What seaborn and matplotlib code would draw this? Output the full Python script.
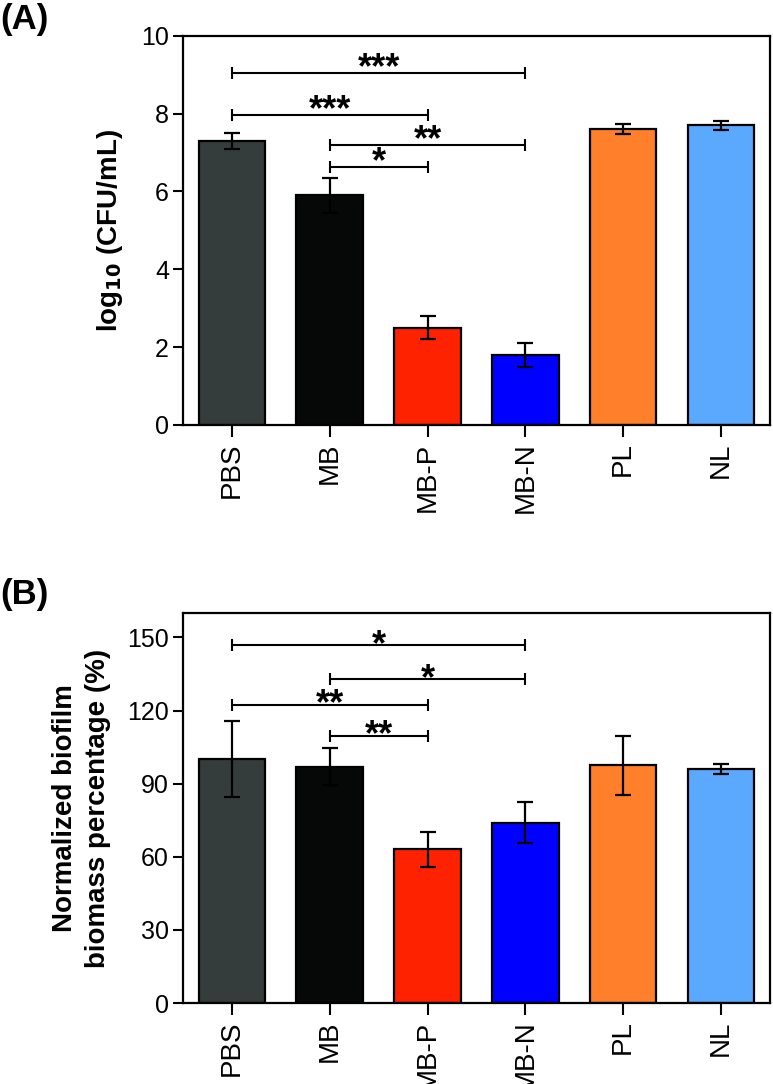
import matplotlib
matplotlib.use("Agg")
import matplotlib.pyplot as plt
import seaborn as sns
import pandas as pd

# groups and colours
groups = ["PBS", "MB", "MB-P", "MB-N", "PL", "NL"]
bar_colors = ["#343d3c", "#050806", "#ff2200", "#0000ff", "#ff7f2a", "#5aa9ff"]

# (A) viable counts
cfu_mean = [7.3, 5.9, 2.5, 1.8, 7.6, 7.7]
cfu_sd = [0.2, 0.45, 0.3, 0.3, 0.12, 0.12]
# significance brackets: (left group, right group, height, label)
cfu_sig = [(0, 3, 9.05, "***"), (0, 2, 7.97, "***"), (1, 3, 7.2, "**"), (1, 2, 6.63, "*")]

# (B) biofilm biomass
biomass_mean = [100, 97, 63, 74, 97.5, 96]
biomass_sd = [15.5, 7.5, 7, 8.5, 12, 2]
biomass_sig = [(0, 3, 146.7, "*"), (1, 3, 132.8, "*"), (0, 2, 122.3, "**"), (1, 2, 109.6, "**")]

sns.set_style("ticks")
plt.rcParams["font.family"] = ["Liberation Sans", "DejaVu Sans"]
plt.rcParams["axes.linewidth"] = 1.6
plt.rcParams["text.color"] = "black"
plt.rcParams["axes.labelcolor"] = "black"
plt.rcParams["xtick.color"] = "black"
plt.rcParams["ytick.color"] = "black"
plt.rcParams["axes.edgecolor"] = "black"


def draw_panel(ax, means, sds, sig, ylim, yticks, ylabel, star_dy):
    df = pd.DataFrame({"group": groups, "value": means})
    sns.barplot(data=df, x="group", y="value", hue="group", palette=bar_colors,
                order=groups, hue_order=groups, legend=False, width=0.68,
                saturation=1, edgecolor="black", linewidth=1.6, errorbar=None, ax=ax)
    ax.errorbar(range(len(groups)), means, yerr=sds, fmt="none", ecolor="black",
                elinewidth=1.6, capsize=6, capthick=1.6, zorder=5)
    for x1, x2, y, label in sig:
        ax.plot([x1, x2], [y, y], color="black", lw=1.5, marker="|",
                markersize=9, mew=1.5, zorder=6)
        ax.annotate(label, xy=((x1 + x2) / 2, y), xytext=(0, star_dy),
                    textcoords="offset points", ha="center", va="baseline",
                    fontsize=26, fontweight="bold")
    ax.set_xlim(-0.5, len(groups) - 0.5)
    ax.set_ylim(*ylim)
    ax.set_yticks(yticks)
    ax.set_xlabel("")
    ax.set_ylabel(ylabel, fontsize=20, fontweight="bold", labelpad=12,
                  linespacing=1.35)
    for s in ax.spines.values():
        s.set_linewidth(1.6)
        s.set_visible(True)
    ax.tick_params(axis="y", length=7, width=1.5, labelsize=18, pad=3)
    ax.tick_params(axis="x", length=8.5, width=1.5, pad=4)
    ax.set_xticks(range(len(groups)))
    ax.set_xticklabels(groups, rotation=90, fontsize=20,
                       family=["Liberation Sans Narrow", "Liberation Sans"])


fig = plt.figure(figsize=(7.73, 10.84), dpi=100)
ax_a = fig.add_axes([0.2367, 0.608, 0.7593, 0.359])
ax_b = fig.add_axes([0.2367, 0.0747, 0.7593, 0.3598])

draw_panel(ax_a, cfu_mean, cfu_sd, cfu_sig, (0, 10), [0, 2, 4, 6, 8, 10],
           r"log$_{\mathbf{10}}$ (CFU/mL)", -4)
draw_panel(ax_b, biomass_mean, biomass_sd, biomass_sig, (0, 160),
           [0, 30, 60, 90, 120, 150],
           "Normalized biofilm\nbiomass percentage (%)", -7)

fig.text(0.0, 0.997, "(A)", fontsize=25, fontweight="bold", ha="left", va="top")
fig.text(0.0, 0.467, "(B)", fontsize=25, fontweight="bold", ha="left", va="top")

fig.savefig("out.png", dpi=100)
